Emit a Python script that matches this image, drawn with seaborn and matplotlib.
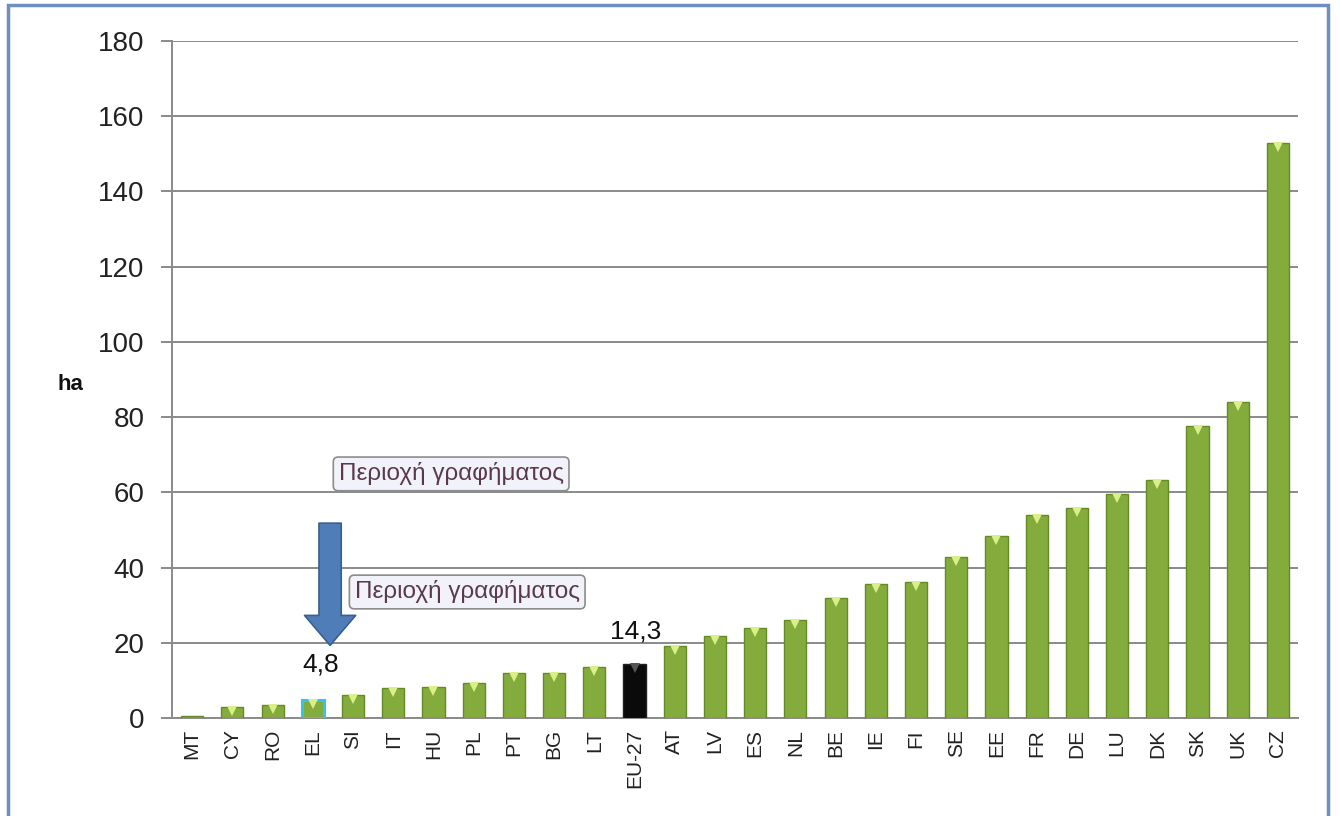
import matplotlib
matplotlib.use("Agg")
import matplotlib.pyplot as plt
import seaborn as sns
import pandas as pd
from matplotlib.patches import Rectangle

countries = ["MT", "CY", "RO", "EL", "SI", "IT", "HU", "PL", "PT", "BG", "LT", "EU-27",
             "AT", "LV", "ES", "NL", "BE", "IE", "FI", "SE", "EE", "FR", "DE", "LU",
             "DK", "SK", "UK", "CZ"]
values = [0.5, 2.9, 3.5, 4.8, 6.1, 8.0, 8.2, 9.3, 12.0, 12.0, 13.6, 14.3,
          19.1, 21.8, 23.9, 26.0, 31.9, 35.6, 36.2, 42.8, 48.4, 54.0, 55.8, 59.6,
          63.3, 77.6, 84.0, 152.9]
yticks = [0, 20, 40, 60, 80, 100, 120, 140, 160, 180]
label_el = "4,8"
label_eu = "14,3"
box_text = "Περιοχή γραφήματος"
ylabel = "ha"

GREEN = "#84AC3C"
colors = []
for c in countries:
    if c == "EU-27":
        colors.append("#0A0A0A")
    else:
        colors.append(GREEN)

sns.set_theme(style="white")
plt.rcParams["font.family"] = ["Liberation Sans", "DejaVu Sans"]

df = pd.DataFrame({"country": countries, "value": values})

fig = plt.figure(figsize=(13.4, 8.16), dpi=100)
ax = fig.add_axes([0.1284, 0.1201, 0.8403, 0.8297])

sns.barplot(data=df, x="country", y="value", hue="country", palette=colors,
            legend=False, width=0.55, ax=ax, saturation=1, zorder=3)

for i, p in enumerate(ax.patches):
    c = countries[i] if i < len(countries) else None
    if c == "EL":
        p.set_edgecolor("#35C3EE")
        p.set_linewidth(2.2)
    elif c == "EU-27":
        p.set_edgecolor("#222222")
        p.set_linewidth(1)
    else:
        p.set_edgecolor("#648A25")
        p.set_linewidth(1)

# bevel highlight at top of bars
for i, (c, v) in enumerate(zip(countries, values)):
    if v > 2:
        col = "#D9F08A" if c != "EU-27" else "#555555"
        ax.plot(i, v - 1.0, marker="v", color=col, markersize=7, zorder=4,
                markeredgewidth=0)

ax.set_ylim(0, 180)
ax.set_xlim(-0.5, len(countries) - 0.5)
ax.set_yticks(yticks)
ax.set_yticklabels([str(t) for t in yticks], fontsize=20, color="#222222")
ax.yaxis.grid(True, color="#8A8A8A", linewidth=1.4, zorder=0)
ax.xaxis.grid(False)
ax.set_axisbelow(True)

ax.set_xlabel("")
ax.set_ylabel(ylabel, rotation=0, fontweight="bold", fontsize=16, color="#111111",
              va="center", ha="center")
ax.yaxis.set_label_coords(-0.090, 0.492)

ax.set_xticks(range(len(countries)))
ax.set_xticklabels(countries, rotation=90, fontsize=15, color="#222222")
ax.tick_params(axis="x", length=0, pad=8)
ax.set_xticks([i - 0.5 for i in range(len(countries) + 1)], minor=True)
ax.tick_params(axis="x", which="minor", length=8, color="#8A8A8A", width=1.4, direction="out")
ax.tick_params(axis="y", length=8, color="#8A8A8A", width=1.4, direction="out", pad=12, left=True)

for s in ["top", "right"]:
    ax.spines[s].set_visible(False)
for s in ["left", "bottom"]:
    ax.spines[s].set_color("#8A8A8A")
    ax.spines[s].set_linewidth(1.4)

# value labels
ax.text(3.2, 14.1, label_el, ha="center", va="center", fontsize=19, color="#111111")
ax.text(11.02, 22.9, label_eu, ha="center", va="center", fontsize=19, color="#111111")

# arrow
ax.annotate("", xy=(3.43, 19.3), xytext=(3.43, 51.8),
            arrowprops=dict(arrowstyle="simple,head_length=1.35,head_width=2.3,tail_width=1.0",
                            mutation_scale=16, facecolor="#4F7DB8", edgecolor="#3A5F8F",
                            linewidth=1.2, shrinkA=0, shrinkB=0), zorder=5)

# chart-area boxes
bbox = dict(boxstyle="round,pad=0.22,rounding_size=0.2", facecolor="#F2F2FA",
            edgecolor="#8C8C8C", linewidth=1.2)
ax.text(6.44, 64.9, box_text, ha="center", va="center", fontsize=17.5, color="#5A3A4A",
        bbox=bbox, zorder=6)
ax.text(6.84, 33.5, box_text, ha="center", va="center", fontsize=17.5, color="#5A3A4A",
        bbox=bbox, zorder=6)

# outer blue frame
fig.patches.append(Rectangle((8 / 1340, -0.02), 1320 / 1340, 1 - 5 / 816 + 0.02,
                             transform=fig.transFigure, fill=False,
                             edgecolor="#6F8FC0", linewidth=2.5))

fig.savefig("out.png", dpi=100)
